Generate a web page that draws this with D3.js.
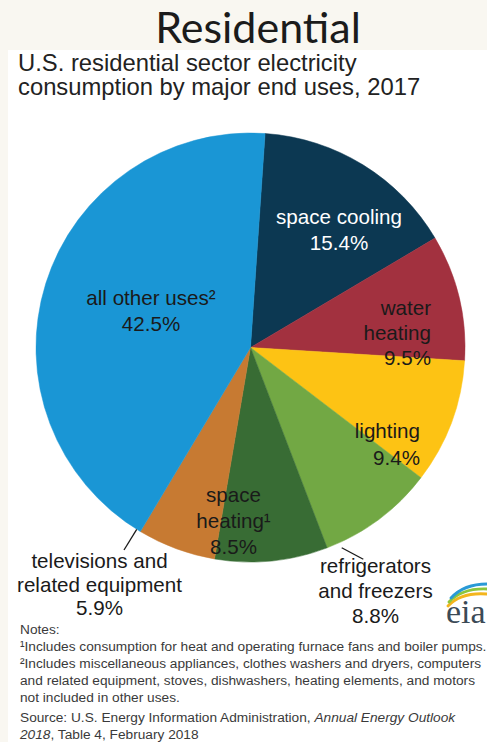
<!DOCTYPE html>
<html>
<head>
<meta charset="utf-8">
<script src="https://cdn.jsdelivr.net/npm/d3@7"></script>
<style>
  html, body { margin: 0; padding: 0; background: #f9f7f1; }
  svg { display: block; }
</style>
</head>
<body>
<svg id="chart" width="487" height="742"></svg>
<script>
// End uses of residential electricity, 2017 (percent of total)
const categories = ["space cooling", "water heating", "lighting", "refrigerators and freezers",
                    "space heating", "televisions and related equipment", "all other uses"];
const shares = [15.4, 9.5, 9.4, 8.8, 8.5, 5.9, 42.5];
const sliceColors = ["#0c3852", "#a2313f", "#fdc314", "#72a844", "#386c34", "#c77a32", "#1a96d5"];

const notes = [
  "\u00b9Includes consumption for heat and operating furnace fans and boiler pumps.",
  "\u00b2Includes miscellaneous appliances, clothes washers and dryers, computers",
  "and related equipment, stoves, dishwashers, heating elements, and motors",
  "not included in other uses."
];

const svg = d3.select("#chart");
const W = 487, H = 742;

// white chart panel on the slide
svg.append("rect").attr("x", 8).attr("y", 50).attr("width", W - 8).attr("height", H - 50).attr("fill", "#ffffff");

// slide heading
svg.append("text")
  .attr("x", 258).attr("y", 43)
  .attr("text-anchor", "middle")
  .attr("font-family", "Lato, 'Open Sans', sans-serif")
  .attr("font-size", 43)
  .attr("fill", "#1b1b1b")
  .text("Residential");

// chart title
const title = svg.append("g")
  .attr("font-family", "'Liberation Sans', Arial, sans-serif")
  .attr("font-size", 23.8)
  .attr("fill", "#222");
title.append("text").attr("x", 18).attr("y", 71).text("U.S. residential sector electricity");
title.append("text").attr("x", 18).attr("y", 95).text("consumption by major end uses, 2017");

// pie
const cx = 250.5, cy = 347.5, R = 214.5;
const start = 3.9 * Math.PI / 180;
const pie = d3.pie().sort(null).value(d => d.value)
  .startAngle(start).endAngle(start + 2 * Math.PI);
const data = categories.map((c, i) => ({ name: c, value: shares[i], color: sliceColors[i] }));
const arcs = pie(data);
const arc = d3.arc().innerRadius(0).outerRadius(R);

const g = svg.append("g").attr("transform", `translate(${cx},${cy})`);
g.selectAll("path.slice").data(arcs).join("path")
  .attr("class", "slice")
  .attr("d", arc)
  .attr("fill", d => d.data.color)
  .attr("stroke", d => d.data.color)
  .attr("stroke-width", 0.5);

// label layout: lines of text, anchor and position relative to the pie centre
const fmt = v => v.toFixed(1) + "%";
const labelLayout = {
  "space cooling":                   { lines: ["space cooling"], x: 88.5, y: -124, anchor: "middle", fill: "#ffffff", dy: 26 },
  "water heating":                   { lines: ["water", "heating"], x: 180.5, y: -33, anchor: "end", fill: "#1a1a1a", dy: 25 },
  "lighting":                        { lines: ["lighting"], x: 169.5, y: 90.5, anchor: "end", fill: "#1a1a1a", dy: 26.5 },
  "refrigerators and freezers":      { lines: ["refrigerators", "and freezers"], x: 125, y: 225.5, anchor: "middle", fill: "#1a1a1a", dy: 25 },
  "space heating":                   { lines: ["space", "heating\u00b9"], x: -17, y: 154.5, anchor: "middle", fill: "#1a1a1a", dy: 26 },
  "televisions and related equipment": { lines: ["televisions and", "related equipment"], x: -151, y: 220.5, anchor: "middle", fill: "#1a1a1a", dy: 23.7 },
  "all other uses":                  { lines: ["all other uses\u00b2"], x: -99.5, y: -42.5, anchor: "middle", fill: "#1a1a1a", dy: 26 }
};

const labels = g.selectAll("text.lbl").data(arcs).join("text")
  .attr("class", "lbl")
  .attr("font-family", "'Liberation Sans', Arial, sans-serif")
  .attr("font-size", 20.6)
  .attr("text-anchor", d => labelLayout[d.data.name].anchor)
  .attr("fill", d => labelLayout[d.data.name].fill);

labels.each(function (d) {
  const L = labelLayout[d.data.name];
  const t = d3.select(this);
  const lines = L.lines.concat([fmt(d.data.value)]);
  lines.forEach((s, i) => {
    t.append("tspan").attr("x", L.x).attr("y", L.y + i * L.dy).text(s);
  });
});

// leader lines for the two outside labels
const leaders = [
  { name: "televisions and related equipment", x1: -113.8, y1: 181.8, x2: -126.5, y2: 202.5 },
  { name: "refrigerators and freezers", x1: 91.2, y1: 200.2, x2: 112.8, y2: 211.8 }
];
g.selectAll("line.leader").data(leaders).join("line")
  .attr("class", "leader")
  .attr("x1", d => d.x1).attr("y1", d => d.y1)
  .attr("x2", d => d.x2).attr("y2", d => d.y2)
  .attr("stroke", "#1a1a1a").attr("stroke-width", 1.3);

// notes and source
const small = svg.append("g")
  .attr("font-family", "'Liberation Sans', Arial, sans-serif")
  .attr("font-size", 13.7)
  .attr("fill", "#3a3a3a");
small.append("text").attr("x", 20).attr("y", 634).text("Notes:");
notes.forEach((s, i) => {
  small.append("text").attr("x", 20).attr("y", 651 + i * 17).text(s);
});
const src1 = small.append("text").attr("x", 20).attr("y", 722);
src1.append("tspan").text("Source: U.S. Energy Information Administration, ");
src1.append("tspan").attr("font-style", "italic").text("Annual Energy Outlook");
const src2 = small.append("text").attr("x", 20).attr("y", 738.5);
src2.append("tspan").attr("font-style", "italic").text("2018");
src2.append("tspan").text(", Table 4, February 2018");

// eia mark
const logo = svg.append("g");
const swooshes = [
  { c: "#f3b51d", d: "M448,606 Q461,592 487,594" },
  { c: "#8cc63e", d: "M449,602 Q462,588 487,589" },
  { c: "#2a9ad6", d: "M451,598 Q464,584 487,584" }
];
logo.selectAll("path").data(swooshes).join("path")
  .attr("d", d => d.d).attr("fill", "none")
  .attr("stroke", d => d.c).attr("stroke-width", 2.8).attr("stroke-linecap", "round");
logo.append("text")
  .attr("x", 446).attr("y", 623)
  .attr("font-family", "'Liberation Serif', 'DejaVu Serif', serif")
  .attr("font-size", 34)
  .attr("fill", "#3b4a56")
  .text("eia");
</script>
</body>
</html>
